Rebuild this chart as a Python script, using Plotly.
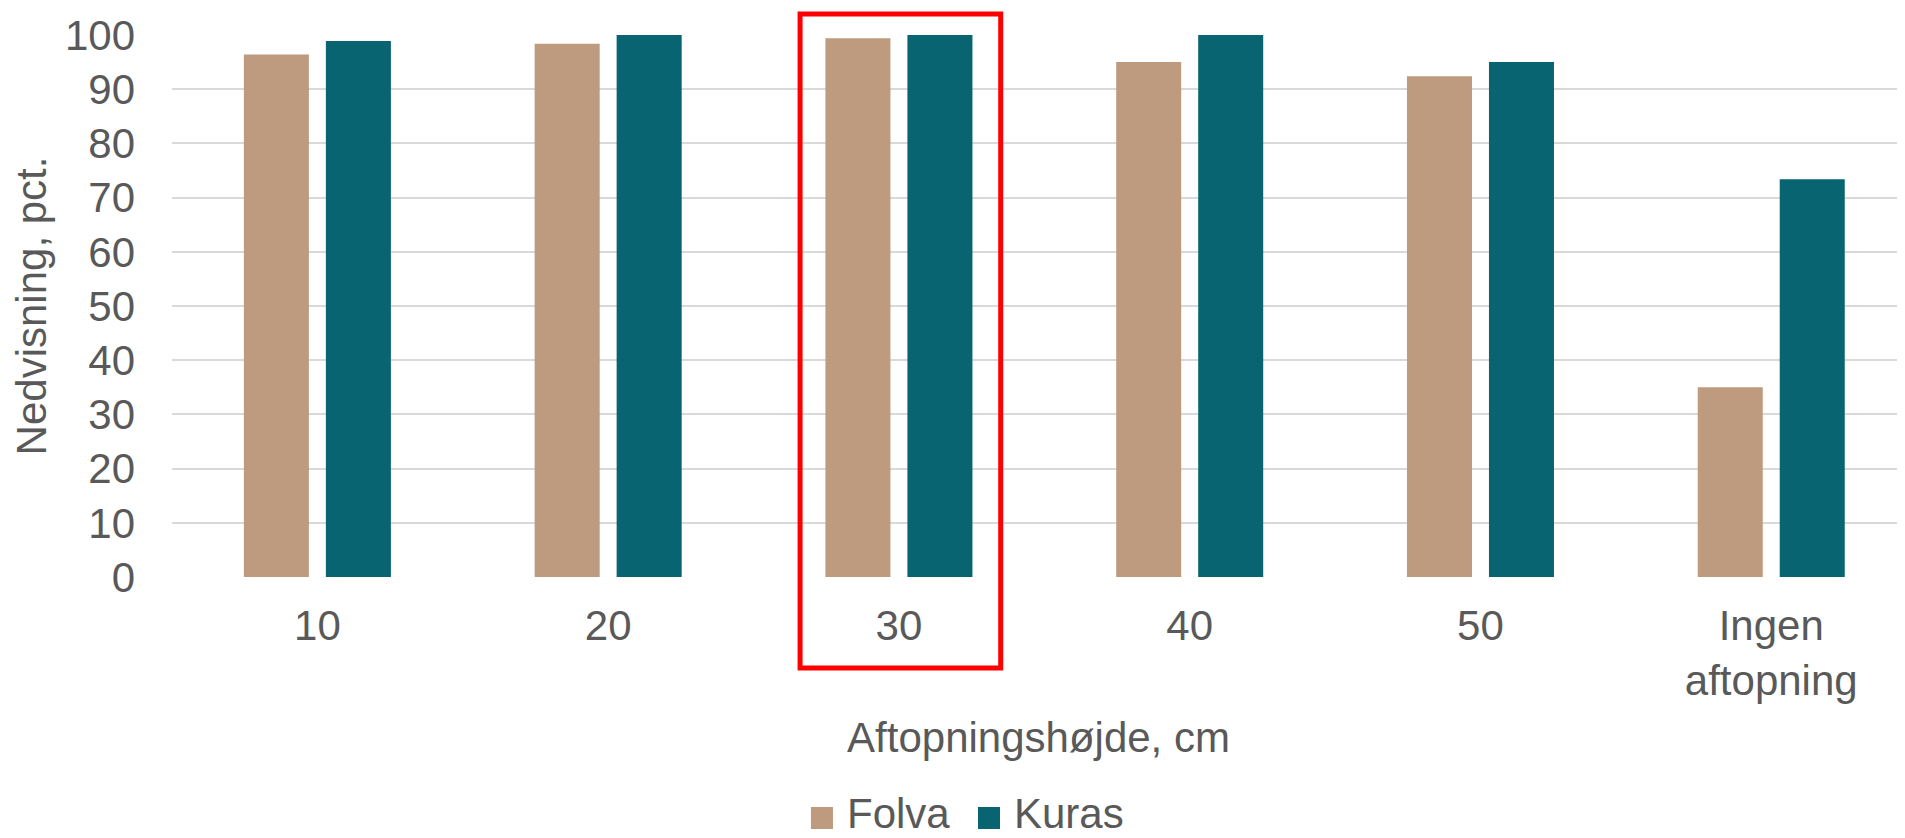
import plotly.graph_objects as go

categories = ["10", "20", "30", "40", "50", "Ingen<br>aftopning"]
folva = [96.4, 98.4, 99.4, 95.0, 92.4, 35.0]
kuras = [98.9, 100.0, 100.0, 100.0, 95.0, 73.4]
y_ticks = list(range(0, 101, 10))
series_names = ["Folva", "Kuras"]
series_colors = ["#BE9A7E", "#086470"]

FONT = "Arial, Liberation Sans, sans-serif"
GRAY = "#595959"
FS = 42

W, H = 1897, 830
L, R, T, B = 164, 0, 27, 261

fig = go.Figure()
for name, vals, col in zip(series_names, [folva, kuras], series_colors):
    fig.add_trace(go.Bar(x=list(range(len(categories))), y=vals, name=name,
                         marker=dict(color=col, line=dict(width=0))))

fig.update_layout(
    width=W, height=H,
    margin=dict(l=L, r=R, t=T, b=B, pad=0, autoexpand=False),
    paper_bgcolor="white", plot_bgcolor="white",
    barmode="group", bargap=0.436, bargroupgap=0.207,
    font=dict(family=FONT, size=FS, color=GRAY),
    showlegend=False,
)
fig.update_xaxes(
    tickmode="array", tickvals=list(range(len(categories))), ticktext=categories,
    range=[-0.5, 5.46], showgrid=False, zeroline=False, showline=False,
    ticks="", tickfont=dict(size=FS, color=GRAY), ticklabelstandoff=20,
    title=dict(text="Aftopningshøjde, cm", font=dict(size=FS, color=GRAY), standoff=20),
)
fig.update_yaxes(
    range=[0, 100], tickvals=y_ticks, showgrid=True, gridcolor="#D9D9D9", gridwidth=1.5,
    zeroline=False, showline=False, ticks="", tickfont=dict(size=FS, color=GRAY),
    ticklabelstandoff=36,
    title=dict(text="Nedvisning, pct.", font=dict(size=FS, color=GRAY), standoff=6),
)

# legend drawn as swatches + text
swatch_x = [0.3687, 0.4651]
text_x = [0.3883, 0.4847]
for name, col, sx, tx in zip(series_names, series_colors, swatch_x, text_x):
    fig.add_shape(type="rect", xref="paper", yref="paper", x0=sx, x1=sx + 0.0127,
                  y0=-0.4649, y1=-0.4243, fillcolor=col, line=dict(width=0))
    fig.add_annotation(text=name, xref="paper", yref="paper", x=tx, y=-0.4356,
                       xanchor="left", yanchor="middle", showarrow=False,
                       font=dict(size=FS, color=GRAY, family=FONT))

# red highlight rectangle around the "30" category
fig.add_shape(type="rect", xref="x", yref="paper", x0=1.66, x1=2.35, y0=-0.168, y1=1.0387,
              line=dict(color="#FF0000", width=5), fillcolor="rgba(0,0,0,0)", layer="above")

fig.write_html("out.html")
